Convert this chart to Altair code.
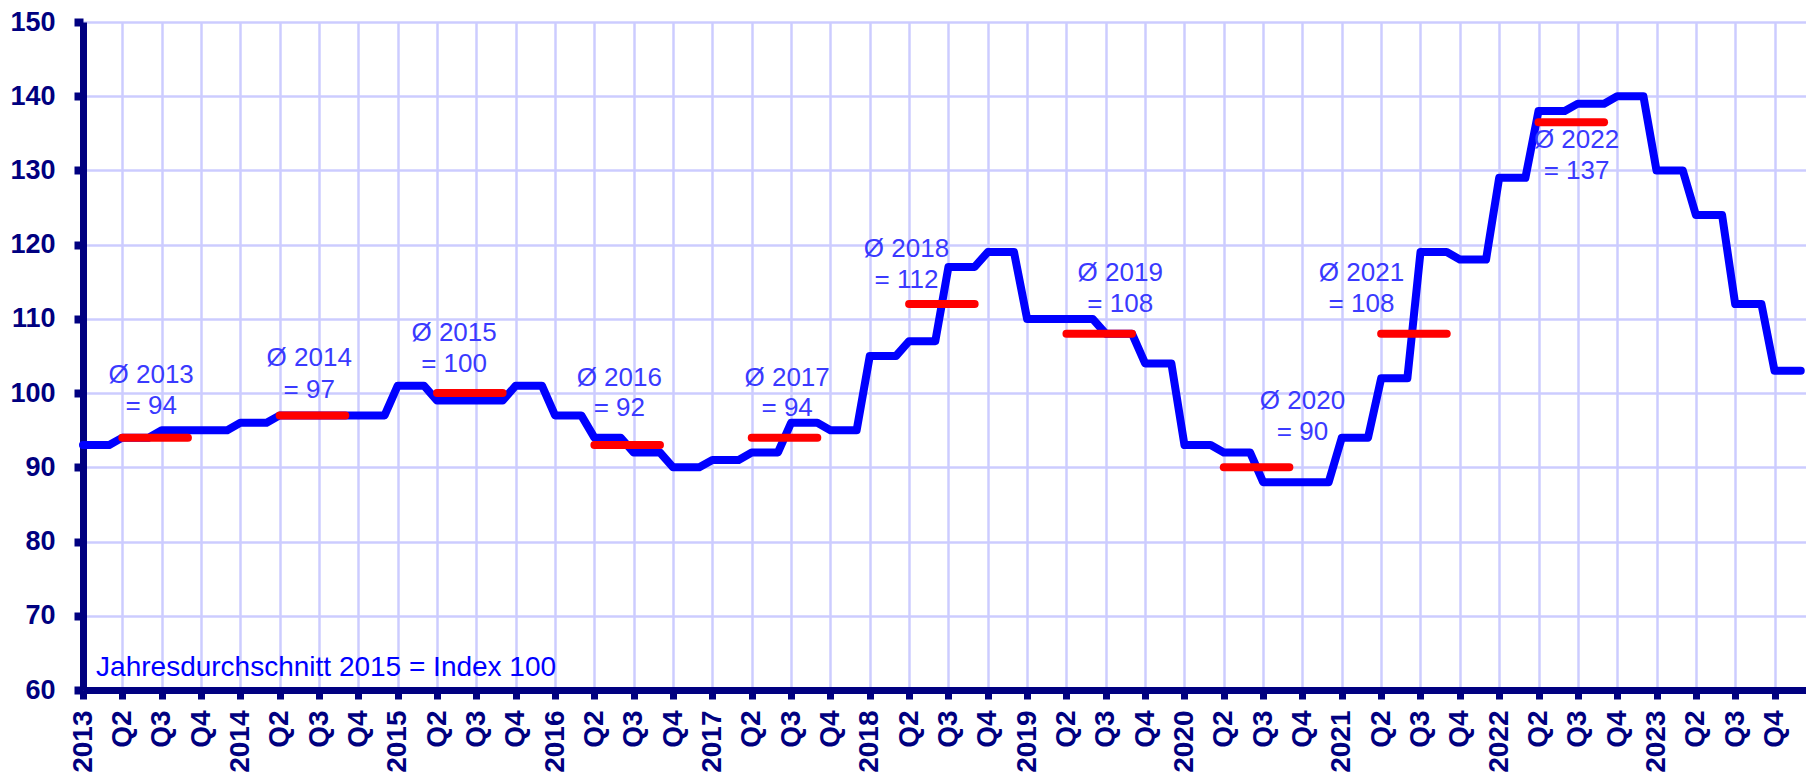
import json
import altair as alt
import pandas as pd

# ---------------- data ----------------
first_year = 2013
# quarterly index values (2013 Q1 ... 2023 Q4)
quarter_values = [
    93, 94, 95, 95,      # 2013
    96, 97, 97, 97,      # 2014
    101, 99, 99, 101,    # 2015
    97, 94, 92, 90,      # 2016
    91, 92, 96, 95,      # 2017
    105, 107, 117, 119,  # 2018
    110, 110, 108, 104,  # 2019
    93, 92, 88, 88,      # 2020
    94, 102, 119, 118,   # 2021
    129, 138, 139, 140,  # 2022
    130, 124, 112, 103,  # 2023
]
tick_labels = []
for i in range(len(quarter_values)):
    tick_labels.append(str(first_year + i // 4) if i % 4 == 0 else f"Q{i % 4 + 1}")

avg_years = [2013, 2014, 2015, 2016, 2017, 2018, 2019, 2020, 2021, 2022]
avg_text = [94, 97, 100, 92, 94, 112, 108, 90, 108, 137]
avg_line = [94, 97, 100, 93, 94, 112, 108, 90, 108, 136.5]
label_month = [5.2, 17.25, 28.3, 40.9, 53.7, 62.8, 79.1, 93.0, 97.5, 113.9]
label_y1 = [101.4, 103.7, 107.0, 101.0, 101.0, 118.4, 115.1, 97.9, 115.1, 133.0]
label_y2 = [97.2, 99.3, 102.8, 96.9, 96.9, 114.2, 110.9, 93.7, 110.9, 128.8]

note_text = "Jahresdurchschnitt 2015 = Index 100"

# monthly points: each quarter's value holds for its three months
rows = []
for qi, v in enumerate(quarter_values):
    for k in range(3):
        rows.append({"m": qi * 3 + k, "v": v})
line_df = pd.DataFrame(rows)

avg_df = pd.DataFrame({
    "year": avg_years,
    "x1": [(y - first_year) * 12 + 3 for y in avg_years],
    "x2": [(y - first_year) * 12 + 8 for y in avg_years],
    "avg": avg_line,
})
lab_df = pd.DataFrame({
    "lx": label_month * 2,
    "ly": label_y1 + label_y2,
    "t": [f"Ø {y}" for y in avg_years] + [f"= {v}" for v in avg_text],
})
note_df = pd.DataFrame({"lx": [1.0], "ly": [61.9], "t": [note_text]})

FONT = "Liberation Sans"
NAVY = "#000080"
GRID = "#ccccff"

xscale = alt.Scale(domain=[0, 131.4], nice=False, zero=False)
yscale = alt.Scale(domain=[60, 150], nice=False, zero=False)

xaxis = alt.Axis(
    values=list(range(0, 132, 3)),
    labelExpr=json.dumps(tick_labels) + "[round(datum.value/3)]",
    labelAngle=-90, labelFont=FONT, labelFontSize=28, labelFontWeight="bold",
    labelColor=NAVY, labelPadding=11, labelFlush=False, labelOverlap=False,
    tickSize=9, tickWidth=7, tickColor=NAVY,
    domainColor=NAVY, domainWidth=7,
    grid=True, gridColor=GRID, gridWidth=2.5, title=None,
)
yaxis = alt.Axis(
    values=list(range(60, 151, 10)),
    labelFont=FONT, labelFontSize=27, labelFontWeight="bold",
    labelColor=NAVY, labelPadding=19, labelOverlap=False, labelFlush=False,
    tickSize=9, tickWidth=8, tickColor=NAVY,
    domainColor=NAVY, domainWidth=7,
    grid=True, gridColor=GRID, gridWidth=2.5, title=None,
)

line = alt.Chart(line_df).mark_line(
    color="#0000ff", strokeWidth=8, strokeJoin="round", strokeCap="round"
).encode(
    x=alt.X("m:Q", scale=xscale, axis=xaxis),
    y=alt.Y("v:Q", scale=yscale, axis=yaxis),
)

avg = alt.Chart(avg_df).mark_rule(
    color="#ff0000", strokeWidth=8, strokeCap="round"
).encode(
    x=alt.X("x1:Q", scale=xscale),
    x2="x2:Q",
    y=alt.Y("avg:Q", scale=yscale),
)

labels = alt.Chart(lab_df).mark_text(
    font=FONT, fontSize=26, color="#3a3aff", align="center", baseline="alphabetic"
).encode(
    x=alt.X("lx:Q", scale=xscale),
    y=alt.Y("ly:Q", scale=yscale),
    text="t:N",
)

note = alt.Chart(note_df).mark_text(
    font=FONT, fontSize=28, color="#0000ff", align="left", baseline="alphabetic"
).encode(
    x=alt.X("lx:Q", scale=xscale),
    y=alt.Y("ly:Q", scale=yscale),
    text="t:N",
)

chart = alt.layer(line, avg, labels, note).properties(
    width=1723, height=668,
    autosize=alt.AutoSizeParams(type="none"),
    padding={"left": 75, "top": 14, "right": 0, "bottom": 85},
    background="white",
).configure_view(stroke=None)

chart.save("out.html", embed_options={"renderer": "svg", "actions": False})
